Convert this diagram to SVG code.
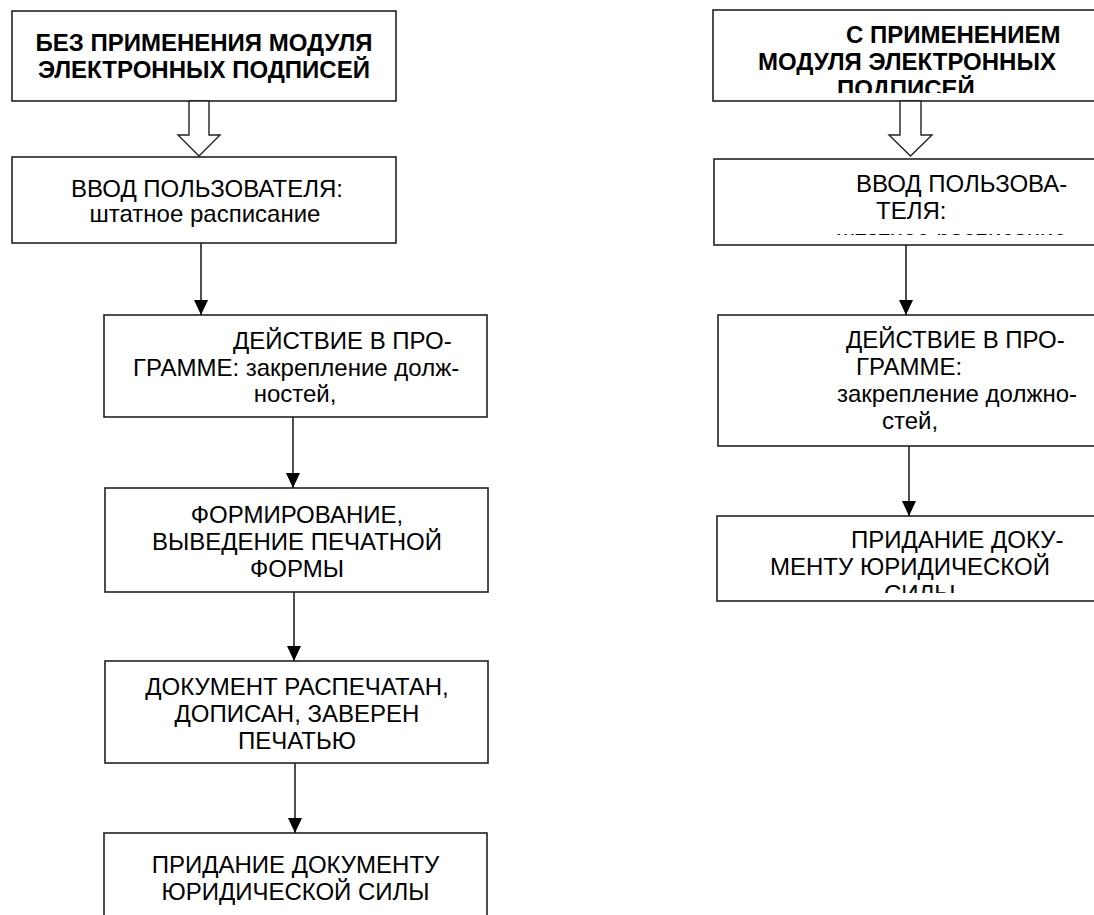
<svg xmlns="http://www.w3.org/2000/svg" width="1094" height="915" viewBox="0 0 1094 915">
<style>
.box{fill:#fff;stroke:#222;stroke-width:1.6}
.t{font-family:"Liberation Sans",Arial,sans-serif;font-size:24px;fill:#000}
.b{font-weight:bold}
.m{text-anchor:middle}
.c{stroke:#222;stroke-width:1.6;fill:none}
.hollow{fill:#fff;stroke:#222;stroke-width:1.4}
</style>
<defs>
<marker id="ah" markerWidth="15" markerHeight="14" refX="15" refY="7" orient="auto" markerUnits="userSpaceOnUse" viewBox="0 0 15 14">
<path d="M0,0 L15,7 L0,14 Z" fill="#000"/>
</marker>
<clipPath id="cR1"><rect x="713" y="10" width="400" height="83"/></clipPath>
<clipPath id="cR2"><rect x="714" y="159" width="400" height="76"/></clipPath>
<clipPath id="cR4"><rect x="717" y="516" width="400" height="77"/></clipPath>
</defs>

<g id="L1">
<rect class="box" x="12" y="11" width="384" height="90"/>
<text class="t b m" x="204" y="51">БЕЗ ПРИМЕНЕНИЯ МОДУЛЯ</text>
<text class="t b m" x="204" y="78">ЭЛЕКТРОННЫХ ПОДПИСЕЙ</text>
</g>
<g id="L2">
<rect class="box" x="12" y="157" width="384" height="86"/>
<text class="t m" x="207" y="197">ВВОД ПОЛЬЗОВАТЕЛЯ:</text>
<text class="t m" x="205" y="222">штатное расписание</text>
</g>
<g id="L3">
<rect class="box" x="104" y="315" width="383" height="102"/>
<text class="t" x="233" y="349">ДЕЙСТВИЕ В ПРО-</text>
<text class="t" x="133" y="376">ГРАММЕ: закрепление долж-</text>
<text class="t m" x="295" y="402">ностей,</text>
</g>
<g id="L4">
<rect class="box" x="105" y="488" width="383" height="104"/>
<text class="t m" x="297" y="523">ФОРМИРОВАНИЕ,</text>
<text class="t m" x="297" y="550">ВЫВЕДЕНИЕ ПЕЧАТНОЙ</text>
<text class="t m" x="297" y="577">ФОРМЫ</text>
</g>
<g id="L5">
<rect class="box" x="105" y="661" width="383" height="102"/>
<text class="t m" x="297" y="695">ДОКУМЕНТ РАСПЕЧАТАН,</text>
<text class="t m" x="297" y="722">ДОПИСАН, ЗАВЕРЕН</text>
<text class="t m" x="297" y="749">ПЕЧАТЬЮ</text>
</g>
<g id="L6">
<rect class="box" x="104" y="833" width="383" height="100"/>
<text class="t m" x="295.5" y="873">ПРИДАНИЕ ДОКУМЕНТУ</text>
<text class="t m" x="295.5" y="900">ЮРИДИЧЕСКОЙ СИЛЫ</text>
</g>

<g id="R1">
<rect class="box" x="713" y="10" width="400" height="91"/>
<g clip-path="url(#cR1)">
<text class="t b" x="846" y="43">С ПРИМЕНЕНИЕМ</text>
<text class="t b" x="758" y="70">МОДУЛЯ ЭЛЕКТРОННЫХ</text>
<text class="t b" x="837" y="97">ПОДПИСЕЙ</text>
</g>
</g>
<g id="R2">
<rect class="box" x="714" y="159" width="400" height="86"/>
<g clip-path="url(#cR2)">
<text class="t" x="856" y="192">ВВОД ПОЛЬЗОВА-</text>
<text class="t" x="876" y="219">ТЕЛЯ:</text>
<text class="t" x="836" y="247">штатное расписание</text>
</g>
</g>
<g id="R3">
<rect class="box" x="718" y="315" width="400" height="131"/>
<text class="t" x="846" y="348">ДЕЙСТВИЕ В ПРО-</text>
<text class="t" x="856" y="375">ГРАММЕ:</text>
<text class="t" x="837" y="402">закрепление должно-</text>
<text class="t" x="882" y="429">стей,</text>
</g>
<g id="R4">
<rect class="box" x="717" y="516" width="400" height="85"/>
<g clip-path="url(#cR4)">
<text class="t" x="851" y="548">ПРИДАНИЕ ДОКУ-</text>
<text class="t" x="770" y="575">МЕНТУ ЮРИДИЧЕСКОЙ</text>
<text class="t" x="884" y="602">СИЛЫ</text>
</g>
</g>

<g id="connectors">
<path class="hollow" d="M189,101 L209,101 L209,135 L220,135 L199,156 L178,135 L189,135 Z"/>
<path class="hollow" d="M900,101 L921,101 L921,135 L932,135 L910.5,156 L889,135 L900,135 Z"/>
<line class="c" x1="201" y1="243" x2="201" y2="315" marker-end="url(#ah)"/>
<line class="c" x1="293" y1="417" x2="293" y2="488" marker-end="url(#ah)"/>
<line class="c" x1="294" y1="592" x2="294" y2="661" marker-end="url(#ah)"/>
<line class="c" x1="295" y1="763" x2="295" y2="833" marker-end="url(#ah)"/>
<line class="c" x1="906" y1="245" x2="906" y2="315" marker-end="url(#ah)"/>
<line class="c" x1="909" y1="446" x2="909" y2="516" marker-end="url(#ah)"/>
</g>
</svg>
